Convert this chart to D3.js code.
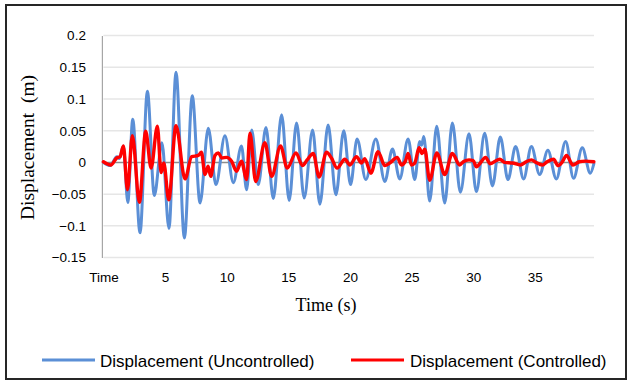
<!DOCTYPE html>
<html>
<head>
<meta charset="utf-8">
<script src="https://cdn.jsdelivr.net/npm/d3@7/dist/d3.min.js"></script>
<style>
  html, body { margin: 0; padding: 0; background: #fff; }
  svg { display: block; }
</style>
</head>
<body>
<svg id="chart" width="629" height="381"></svg>
<script>
// Time (s) and displacement (m) at the turning points of each response
const timeUncontrolled = [0, 0.55, 1.09, 1.3, 1.62, 1.98, 2.38, 2.97, 3.57, 4.13, 4.75, 5.32, 5.89, 6.57, 7.21, 7.84, 8.51, 9.13, 9.86, 10.54, 11.2, 11.62, 12.03, 12.56, 13.19, 13.78, 14.46, 15.07, 15.67, 16.29, 16.97, 17.56, 18.23, 18.86, 19.5, 20.05, 20.58, 21.29, 22.1, 22.83, 23.45, 24.04, 24.72, 25.26, 25.66, 25.82, 25.99, 26.47, 27.04, 27.69, 28.31, 28.96, 29.66, 30.26, 30.93, 31.56, 32.2, 32.82, 33.44, 34.09, 34.72, 35.39, 36.06, 36.74, 37.5, 38.14, 38.85, 39.5, 39.79];
const dispUncontrolled = [0, -0.005, 0.009, 0.006, 0.026, -0.063, 0.068, -0.111, 0.112, -0.052, 0.031, -0.104, 0.142, -0.119, 0.105, -0.064, 0.054, -0.035, 0.042, -0.032, 0.026, -0.043, 0.051, -0.035, 0.055, -0.057, 0.075, -0.06, 0.062, -0.056, 0.051, -0.066, 0.059, -0.051, 0.05, -0.035, 0.037, -0.027, 0.037, -0.03, 0.021, -0.026, 0.037, -0.027, 0.033, 0.027, 0.041, -0.061, 0.057, -0.064, 0.062, -0.047, 0.045, -0.046, 0.046, -0.037, 0.04, -0.027, 0.025, -0.026, 0.025, -0.019, 0.019, -0.026, 0.033, -0.025, 0.023, -0.017, -0.002];

const timeControlled = [0, 0.6, 1.08, 1.35, 1.62, 1.95, 2.35, 2.92, 3.43, 3.87, 4.38, 4.68, 4.9, 5.3, 5.89, 6.62, 7.16, 7.7, 7.95, 8.24, 8.5, 8.7, 9.05, 9.33, 9.6, 10.0, 10.4, 10.8, 11.2, 11.62, 11.89, 12.35, 13.1, 13.65, 14.37, 14.91, 15.62, 16.15, 16.53, 17.02, 17.5, 18.1, 18.5, 18.96, 19.59, 20.0, 20.53, 20.94, 21.2, 21.7, 22.28, 22.83, 23.23, 23.83, 24.18, 24.5, 24.72, 24.99, 25.26, 25.61, 25.85, 26.07, 26.47, 27.05, 27.69, 28.31, 28.9, 29.2, 29.66, 30.0, 30.26, 30.53, 31.01, 31.37, 32.15, 32.55, 33.2, 33.86, 34.3, 34.72, 35.1, 35.6, 36.0, 36.52, 36.88, 37.2, 37.57, 38.09, 38.6, 39.1, 39.79];
const dispControlled = [0.001, -0.004, 0.007, 0.009, 0.026, -0.043, 0.042, -0.063, 0.049, -0.009, 0.057, -0.016, -0.001, -0.059, 0.058, -0.026, 0.009, 0.011, 0.016, -0.019, -0.006, -0.022, 0.011, 0.015, 0.007, 0.008, 0.002, -0.014, 0.002, -0.027, 0.046, -0.03, 0.031, -0.022, 0.026, -0.009, 0.015, -0.005, 0.004, 0.014, -0.023, 0.016, 0.007, -0.009, 0.005, -0.004, 0.009, -0.001, 0.006, -0.017, 0.017, -0.005, -0.001, 0.008, -0.004, 0.002, 0.014, -0.004, -0.001, 0.023, 0.014, 0.021, -0.028, 0.015, -0.019, 0.014, -0.004, 0.001, 0.004, 0.003, -0.007, -0.002, 0.008, -0.002, 0.005, 0, -0.001, -0.004, 0.001, 0.004, 0, -0.004, 0.001, 0.005, -0.005, 0, 0.011, -0.004, 0.001, 0.002, 0.001];

const yTicks = [-0.15, -0.1, -0.05, 0, 0.05, 0.1, 0.15, 0.2];
const xTicks = [0, 5, 10, 15, 20, 25, 30, 35];
const xTickLabels = ["Time", "5", "10", "15", "20", "25", "30", "35"];

const seriesNames = ["Displacement (Uncontrolled)", "Displacement (Controlled)"];
const seriesColors = ["#5b8fd6", "#ff0000"];

const svg = d3.select("#chart");

// chart frame
svg.append("rect")
  .attr("x", 6).attr("y", 5).attr("width", 620).attr("height", 374)
  .attr("fill", "#fff").attr("stroke", "#262626").attr("stroke-width", 2);

const plot = { left: 103.4, right: 594, top: 35.5, bottom: 257.6 };

const x = d3.scaleLinear().domain([0, 39.8]).range([plot.left, plot.right]);
const y = d3.scaleLinear().domain([-0.15, 0.2]).range([plot.bottom, plot.top]);

// horizontal gridlines
svg.append("g")
  .selectAll("line")
  .data(yTicks.filter(d => d !== 0))
  .join("line")
  .attr("x1", plot.left).attr("x2", plot.right)
  .attr("y1", d => y(d)).attr("y2", d => y(d))
  .attr("stroke", "#e6e6e6").attr("stroke-width", 1.5);

// y axis labels
const yAxis = d3.axisLeft(y).tickValues(yTicks).tickSize(0).tickPadding(16)
  .tickFormat(d => d3.format("")(+d.toFixed(2)));
const gy = svg.append("g").attr("transform", `translate(${plot.left - 1.5},0)`).call(yAxis);
gy.select(".domain").attr("stroke", "#a6a6a6").attr("stroke-width", 1.2);
gy.selectAll("text")
  .attr("font-family", "Liberation Sans, Arial, sans-serif")
  .attr("font-size", 13.5).attr("fill", "#000");

// x axis labels (category style, no tick marks)
const xAxis = d3.axisBottom(x).tickValues(xTicks).tickSize(0)
  .tickFormat((d, i) => xTickLabels[i]);
const gx = svg.append("g").attr("transform", `translate(0,${plot.bottom + 12})`).call(xAxis);
gx.select(".domain").remove();
gx.selectAll("text")
  .attr("font-family", "Liberation Sans, Arial, sans-serif")
  .attr("font-size", 13.5).attr("fill", "#000");

// zero line
svg.append("line")
  .attr("x1", plot.left).attr("x2", plot.right)
  .attr("y1", y(0)).attr("y2", y(0))
  .attr("stroke", "#8c8c8c").attr("stroke-width", 1.5);

const line = d3.line()
  .x(d => x(d[0])).y(d => y(d[1]))
  .curve(d3.curveMonotoneX);

const seriesData = [
  d3.zip(timeUncontrolled, dispUncontrolled),
  d3.zip(timeControlled, dispControlled)
];
const seriesWidths = [3, 3.4];

seriesData.forEach((pts, i) => {
  svg.append("path")
    .datum(pts)
    .attr("d", line)
    .attr("fill", "none")
    .attr("stroke", seriesColors[i])
    .attr("stroke-width", seriesWidths[i])
    .attr("stroke-linejoin", "round")
    .attr("stroke-linecap", "round");
});

// axis titles
svg.append("text")
  .attr("x", 326).attr("y", 311)
  .attr("text-anchor", "middle")
  .attr("font-family", "Liberation Serif, Times New Roman, serif")
  .attr("font-size", 18).attr("fill", "#000")
  .text("Time (s)");

svg.append("text")
  .attr("transform", "translate(34,147.5) rotate(-90)")
  .attr("text-anchor", "middle")
  .attr("font-family", "Liberation Serif, Times New Roman, serif")
  .attr("font-size", 19.5).attr("fill", "#000")
  .style("white-space", "pre")
  .text("Displacement  (m)");

// legend
const legendItems = [
  { x1: 42, x2: 95, tx: 100 },
  { x1: 351, x2: 404, tx: 410 }
];
legendItems.forEach((it, i) => {
  svg.append("line")
    .attr("x1", it.x1).attr("x2", it.x2).attr("y1", 360).attr("y2", 360)
    .attr("stroke", seriesColors[i]).attr("stroke-width", 3);
  svg.append("text")
    .attr("x", it.tx).attr("y", 366.5)
    .attr("font-family", "Liberation Sans, Arial, sans-serif")
    .attr("font-size", 17).attr("fill", "#000")
    .text(seriesNames[i]);
});
</script>
</body>
</html>
